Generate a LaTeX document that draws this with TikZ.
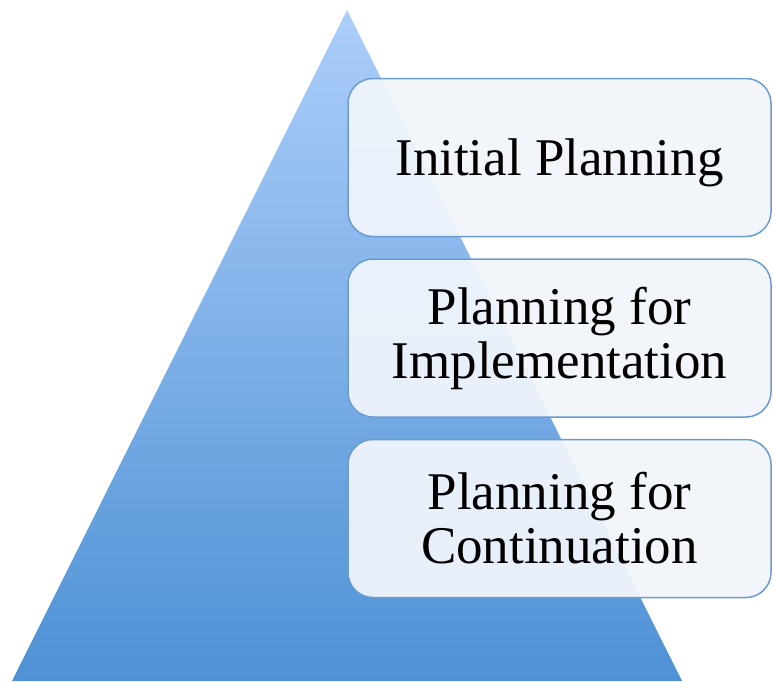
\documentclass[tikz,border=0pt]{standalone}
\usepackage{fontspec}
\setmainfont{Liberation Serif}
\usetikzlibrary{positioning}
\definecolor{azulclaro}{RGB}{172,206,250}
\definecolor{azulescuro}{RGB}{78,145,213}
\definecolor{borda}{RGB}{106,156,208}
\definecolor{fundo}{RGB}{241,245,251}
\begin{document}
\begin{tikzpicture}[
  x=1pt, y=-1pt,
  every node/.style={font=\fontsize{53}{54}\selectfont, align=center}
]
\tikzset{
  etapa/.style={draw=borda, line width=1.5pt, fill=fundo, fill opacity=0.94, text opacity=1,
    rounded corners=25pt, minimum width=423pt, minimum height=158pt, inner sep=0pt,
    execute at begin node={\rule{0pt}{47pt}}}
}
\useasboundingbox (0,0) rectangle (773,681);
\coordinate (topo) at (347,10);
\coordinate (esq) at (12,681);
\coordinate (dir) at (682,681);
\shade[top color=azulclaro, bottom color=azulescuro] (topo) -- (esq) -- (dir) -- cycle;
\node[etapa] (inicial) at (559.5,157.5) {Initial Planning};
\node[etapa, below=21pt of inicial] (implementacao) {Planning for\\Implementation};
\node[etapa, below=21pt of implementacao] (continuacao) {Planning for\\Continuation};
\end{tikzpicture}
\end{document}
